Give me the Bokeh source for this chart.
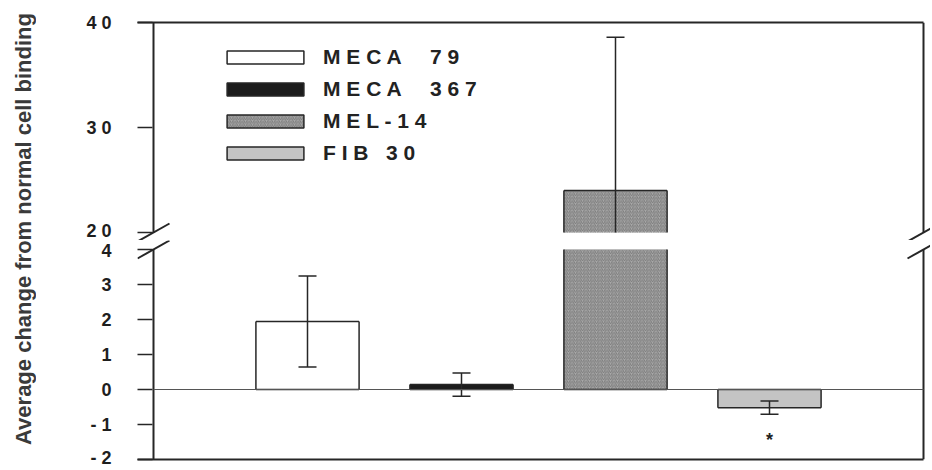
import math
from bokeh.plotting import figure
from bokeh.models import (Range1d, LinearAxis, FixedTicker, Label, Legend, LegendItem,
                          ColumnDataSource)
from bokeh.layouts import row, column
from bokeh.core.properties import value
from bokeh.embed import file_html
from bokeh.resources import INLINE

# ---------------- data ----------------
categories = ["MECA 79", "MECA 367", "MEL-14", "FIB 30"]
legend_labels = ["M E C A     7 9", "M E C A     3 6 7", "M E L - 1 4", "F I B   3 0"]
means = [1.94, 0.14, 24.0, -0.52]
errors = [1.30, 0.33, 14.6, 0.19]
significance = ["", "", "", "*"]
fill_colors = ["#ffffff", "#1c1c1c", "#a9a9a9", "#c4c4c4"]
hatches = [None, None, "/", None]

lower_ticks = [-2, -1, 0, 1, 2, 3, 4]
lower_tick_labels = ["- 2", "- 1", "0", "1", "2", "3", "4"]
upper_ticks = [20, 30, 40]
upper_tick_labels = ["2 0", "3 0", "4 0"]
lower_seg = (-2, 4)     # visible value span of the lower panel
upper_seg = (20, 40)    # visible value span of the upper panel
y_title = "Average change from normal cell binding"

# ---------------- layout constants ----------------
FONT = "Liberation Sans"
DARK = "#262626"
W_LABEL = 36
FIG_W = 894
B_LEFT = 101
PX_X = 154.0            # px per category unit
AXIS_IN = 16            # px from frame edge to the y axis line
X0, X1 = 0.0, 5.0       # axis-line positions (data)
X_RANGE = (X0 - AXIS_IN / PX_X, X0 + (FIG_W - B_LEFT - AXIS_IN) / PX_X)
BAR_W = 0.67
UP_PX, LO_PX = 10.5, 35.0
UP_TOP, UP_GAP = 22, 8
LO_GAP, LO_BOT = 9, 8
UP_FRAME = int(round((upper_seg[1] - upper_seg[0]) * UP_PX)) + UP_GAP
LO_FRAME = int(round((lower_seg[1] - lower_seg[0]) * LO_PX)) + LO_GAP

xs = [i + 1 for i in range(len(categories))]


def clip(v, lo, hi):
    return max(lo, min(hi, v))


def hatch_kw(i):
    if hatches[i]:
        return dict(hatch_pattern=hatches[i], hatch_color="#6e6e6e",
                    hatch_scale=3.5, hatch_weight=0.8)
    return {}


def border_axis(bounds):
    return LinearAxis(ticker=FixedTicker(ticks=[]), major_tick_out=0, major_tick_in=0,
                      minor_tick_out=0, minor_tick_in=0, major_label_standoff=0,
                      major_label_text_font_size="0px", bounds=bounds,
                      axis_line_color=DARK, axis_line_width=2)


def make_panel(seg, yr, top, frame_h, bottom, ticks, labels):
    lo, hi = seg
    p = figure(width=FIG_W, height=top + frame_h + bottom, title=None,
               x_range=Range1d(*X_RANGE), y_range=Range1d(*yr),
               toolbar_location=None, output_backend="svg", x_axis_type=None,
               min_border_left=B_LEFT, min_border_right=0,
               min_border_top=top, min_border_bottom=bottom)
    p.outline_line_color = None
    p.grid.visible = False
    p.background_fill_color = "white"
    p.border_fill_color = "white"
    ax = p.yaxis[0]
    ax.ticker = FixedTicker(ticks=ticks)
    ax.major_label_overrides = {t: l for t, l in zip(ticks, labels)}
    ax.axis_line_color = None
    ax.major_tick_line_color = DARK
    ax.major_tick_line_width = 1.5
    ax.major_tick_out = 0
    ax.major_tick_in = AXIS_IN - 1
    ax.minor_tick_line_color = None
    ax.major_label_text_font = FONT
    ax.major_label_text_font_style = "bold"
    ax.major_label_text_font_size = "18px"
    ax.major_label_text_color = "#1e1e1e"
    ax.major_label_standoff = 26

    # bars: fill clipped to this panel's span, outline only on real edges
    ex0, ey0, ex1, ey1 = [], [], [], []
    for i in range(len(categories)):
        b, t = clip(0, lo, hi), clip(means[i], lo, hi)
        if b == t:
            continue
        p.vbar(x=[xs[i]], top=[t], bottom=[b], width=BAR_W,
               fill_color=fill_colors[i], line_color=None, **hatch_kw(i))
        xl, xr = xs[i] - BAR_W / 2, xs[i] + BAR_W / 2
        ex0 += [xl, xr]; ex1 += [xl, xr]; ey0 += [b, b]; ey1 += [t, t]
        for yv in (0, means[i]):
            if lo <= yv <= hi:
                ex0.append(xl); ex1.append(xr); ey0.append(yv); ey1.append(yv)
    p.segment(x0=ex0, y0=ey0, x1=ex1, y1=ey1, line_color=DARK, line_width=1.5)

    # error bars
    sx, s0, s1, cx, cy = [], [], [], [], []
    for i in range(len(categories)):
        lo_e, hi_e = means[i] - errors[i], means[i] + errors[i]
        a, b = clip(lo_e, lo, hi), clip(hi_e, lo, hi)
        if a != b:
            sx.append(xs[i]); s0.append(a); s1.append(b)
        for yv in (lo_e, hi_e):
            if lo <= yv <= hi:
                cx.append(xs[i]); cy.append(yv)
    p.segment(x0=sx, y0=s0, x1=sx, y1=s1, line_color=DARK, line_width=1.5)
    p.scatter(x=cx, y=cy, marker="dash", size=18, line_color=DARK, line_width=1.5)

    # y-axis lines (left and right) limited to the panel span
    p.segment(x0=[X0, X1], y0=[lo, lo], x1=[X0, X1], y1=[hi, hi],
              line_color=DARK, line_width=2)
    return p


upper = make_panel(upper_seg, (upper_seg[0] - UP_GAP / UP_PX, upper_seg[1]),
                   UP_TOP, UP_FRAME, 0, upper_ticks, upper_tick_labels)
upper.add_layout(border_axis((X_RANGE[0], X1)), "above")

lower = make_panel(lower_seg, (lower_seg[0], lower_seg[1] + LO_GAP / LO_PX),
                   0, LO_FRAME, LO_BOT, lower_ticks, lower_tick_labels)
lower.add_layout(border_axis((X_RANGE[0], X1)), "below")
# zero line
lower.segment(x0=[X0], y0=[0], x1=[X1], y1=[0], line_color="#555555", line_width=1.2)

# significance mark
sig_src = ColumnDataSource(dict(x=xs, y=[m - e for m, e in zip(means, errors)], sig=significance))
lower.text(x="x", y="y", text="sig", source=sig_src, y_offset=16,
           text_font=value(FONT), text_font_style="bold", text_font_size="18px",
           text_align="center", text_baseline="top", text_color="#222222")

# axis-break slashes (half extent 16 x 9 px)
dx = 16 / PX_X
for xe in (X0, X1):
    upper.segment(x0=[xe - dx], y0=[upper_seg[0] - 9 / UP_PX], x1=[xe + dx],
                  y1=[upper_seg[0] + 9 / UP_PX], line_color=DARK, line_width=2)
    lower.segment(x0=[xe - dx], y0=[lower_seg[1] - 9 / LO_PX], x1=[xe + dx],
                  y1=[lower_seg[1] + 9 / LO_PX], line_color=DARK, line_width=2)

# legend: legend-only renderers whose single point is NaN (never drawn in the plot)
nan = float("nan")
items = []
for i in range(len(categories)):
    r = upper.vbar(x=[nan], top=[nan], bottom=[nan], width=BAR_W, fill_color=fill_colors[i],
                   line_color=DARK, line_width=1.5, **hatch_kw(i))
    items.append(LegendItem(label=legend_labels[i], renderers=[r]))
legend = Legend(items=items, location=(80, 75), orientation="vertical",
                glyph_width=96, glyph_height=16, label_standoff=10, spacing=8,
                padding=0, margin=0, border_line_color=None, background_fill_alpha=0,
                label_text_font=FONT, label_text_font_style="bold",
                label_text_font_size="21px", label_text_color="#222222")
upper.add_layout(legend)

# y-axis title spanning both panels
TOTAL_H = UP_TOP + UP_FRAME + LO_FRAME + LO_BOT
lab = figure(width=W_LABEL, height=TOTAL_H, title=None, x_range=(0, 1), y_range=(0, 1),
             toolbar_location=None, output_backend="svg", x_axis_type=None, y_axis_type=None,
             min_border=0)
lab.outline_line_color = None
lab.grid.visible = False
lab.background_fill_color = "white"
lab.add_layout(Label(x=22.5 / W_LABEL, y=1 - 228.5 / TOTAL_H, text=y_title, angle=math.pi / 2,
                     text_align="center", text_baseline="middle",
                     text_font=FONT, text_font_style="bold",
                     text_font_size="22px", text_color="#3a3a3a"))

p = row(lab, column(upper, lower, spacing=0), spacing=0)
open("out.html", "w").write(file_html(p, INLINE))
